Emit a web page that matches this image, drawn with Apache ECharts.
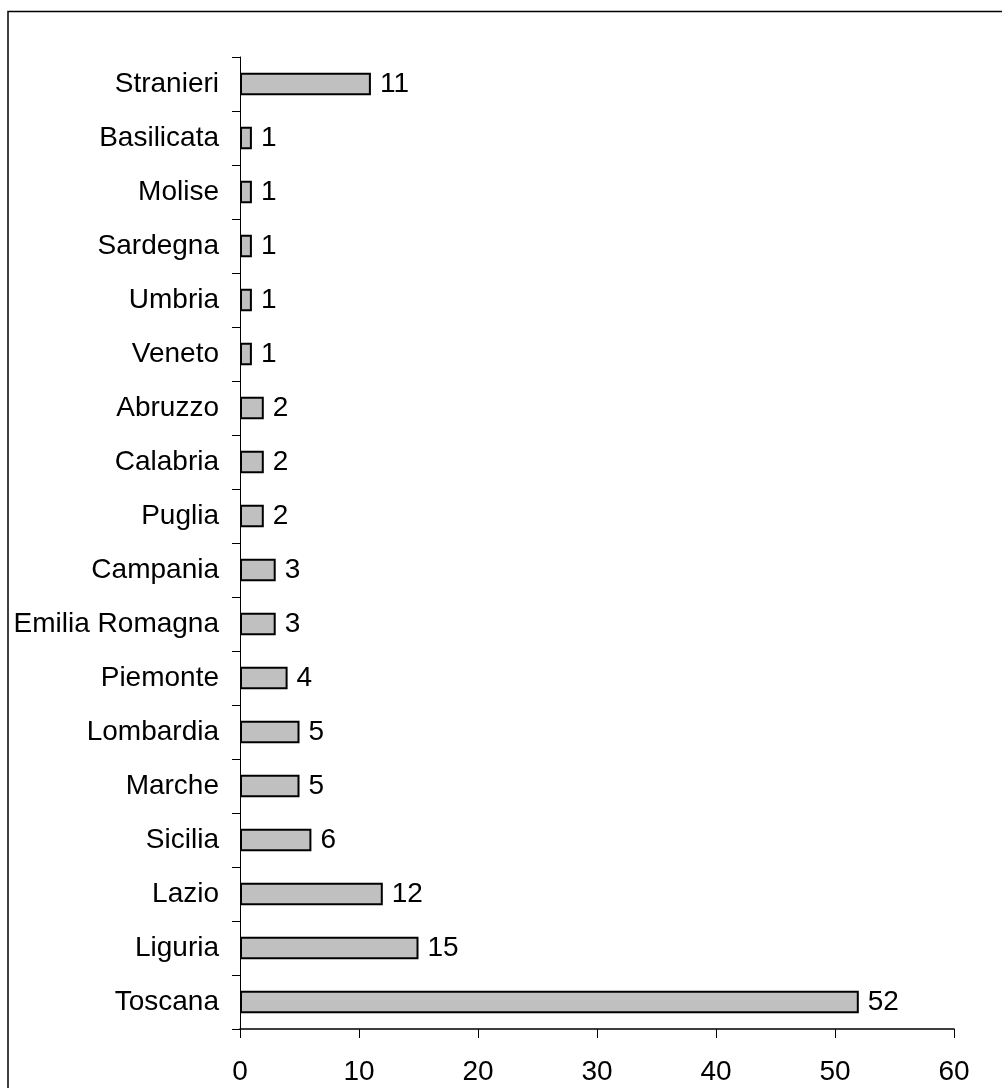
<!DOCTYPE html>
<html>
<head>
<meta charset="utf-8">
<script src="https://cdn.jsdelivr.net/npm/echarts@6/dist/echarts.min.js"></script>
<style>
  html, body { margin: 0; padding: 0; background: #fff; }
  #chart { width: 1002px; height: 1088px; }
</style>
</head>
<body>
<div id="chart"></div>
<script>
// Regions, listed bottom-to-top as the category axis draws them
const regions = [
  'Toscana', 'Liguria', 'Lazio', 'Sicilia', 'Marche', 'Lombardia',
  'Piemonte', 'Emilia Romagna', 'Campania', 'Puglia', 'Calabria',
  'Abruzzo', 'Veneto', 'Umbria', 'Sardegna', 'Molise', 'Basilicata',
  'Stranieri'
];
const counts = [52, 15, 12, 6, 5, 5, 4, 3, 3, 2, 2, 2, 1, 1, 1, 1, 1, 11];
const xTicks = [0, 10, 20, 30, 40, 50, 60];

const FONT = 'Liberation Sans, Arial, sans-serif';
const chart = echarts.init(document.getElementById('chart'), null, { renderer: 'canvas' });

chart.setOption({
  backgroundColor: '#ffffff',
  animation: false,
  graphic: [{
    type: 'rect',
    shape: { x: 8, y: 11.5, width: 1100, height: 1200 },
    style: { fill: 'none', stroke: '#000', lineWidth: 1.5 },
    silent: true
  }],
  grid: { left: 240, right: 48, top: 57, bottom: 59, containLabel: false },
  xAxis: {
    type: 'value',
    min: xTicks[0],
    max: xTicks[xTicks.length - 1],
    interval: 10,
    splitLine: { show: false },
    axisLine: { show: true, lineStyle: { color: '#000', width: 1.5 } },
    axisTick: { show: true, inside: false, length: 9, lineStyle: { color: '#000', width: 1 } },
    axisLabel: { color: '#000', fontFamily: FONT, fontSize: 28, margin: 29 }
  },
  yAxis: {
    type: 'category',
    data: regions,
    axisLine: { show: true, onZero: false, lineStyle: { color: '#000', width: 1 } },
    axisTick: { show: true, length: 8, alignWithLabel: false, lineStyle: { color: '#000', width: 1 } },
    axisLabel: { color: '#000', fontFamily: FONT, fontSize: 28, margin: 21 }
  },
  series: [{
    type: 'bar',
    data: counts,
    barWidth: '42%',
    itemStyle: { color: '#c0c0c0', borderColor: '#000', borderWidth: 2 },
    label: {
      show: true,
      position: 'right',
      distance: 9,
      color: '#000',
      fontFamily: FONT,
      fontSize: 28
    }
  }]
});
</script>
</body>
</html>
